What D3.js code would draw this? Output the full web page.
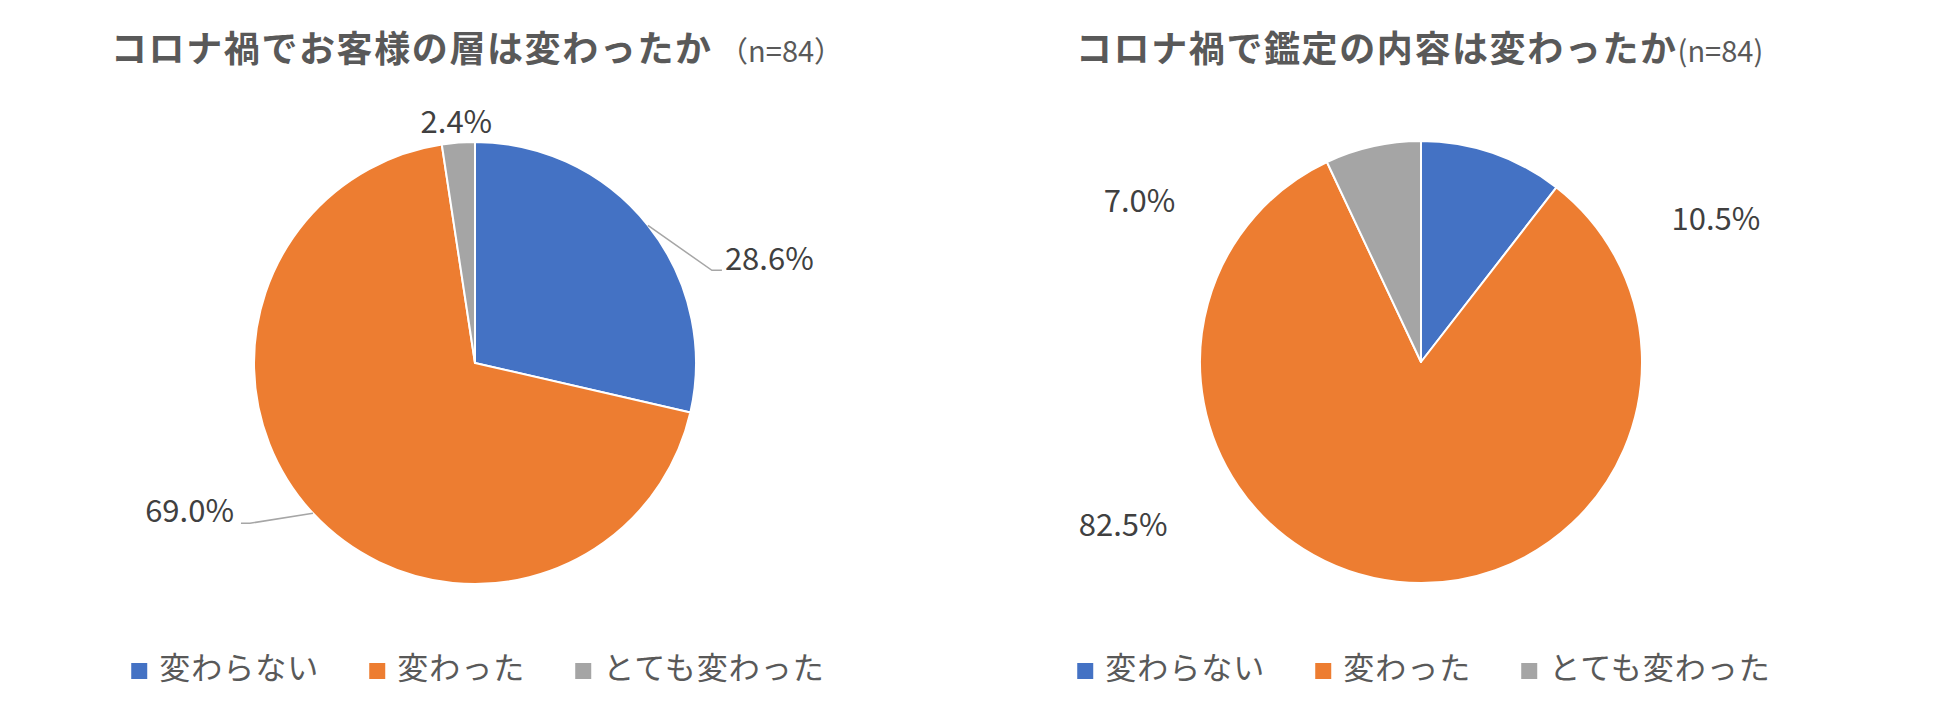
<!DOCTYPE html>
<html>
<head>
<meta charset="utf-8">
<script src="https://cdn.jsdelivr.net/npm/d3@7"></script>
<style>
  body { margin: 0; background: #fff; }
  text { font-family: "Noto Sans CJK JP", "Noto Sans", sans-serif; }
</style>
</head>
<body>
<div id="chart"></div>
<script>
// data
var categories = ["変わらない", "変わった", "とても変わった"];
var customerValues = [28.6, 69.0, 2.4];
var contentValues = [10.5, 82.5, 7.0];
var titles = ["コロナ禍でお客様の層は変わったか", "コロナ禍で鑑定の内容は変わったか"];
var titleNotes = [" （n=84）", "(n=84)"];

var colors = ["#4472C4", "#ED7D31", "#A5A5A5"];

var W = 1952, H = 712;
var radius = 221;

// label placement, relative to the point where the slice middle meets the rim
var labelLayout = [
  [ {dx: 77, dy: 45, anchor: "start", leader: [[64, 45], [74, 45]]},
    {dx: -79, dy: 9, anchor: "end", leader: [[-63, 10], [-72, 10]]},
    {dx: -2, dy: -10, anchor: "middle"} ],
  [ {dx: 179, dy: 77, anchor: "start"},
    {dx: -318, dy: -46, anchor: "start"},
    {dx: -269, dy: 66, anchor: "start"} ]
];

var charts = [
  {cx: 475, cy: 363, titleX: 111, values: customerValues},
  {cx: 1421, cy: 362, titleX: 1076, values: contentValues}
];

var svg = d3.select("#chart").append("svg")
  .attr("width", W)
  .attr("height", H);

var pie = d3.pie().sort(null).value(d => d);
var arc = d3.arc().innerRadius(0).outerRadius(radius);

charts.forEach(function(c, ci) {
  var g = svg.append("g")
    .attr("transform", "translate(" + c.cx + "," + c.cy + ")");

  // title
  var title = svg.append("text")
    .attr("x", c.titleX)
    .attr("y", 62)
    .attr("fill", "#595959");
  title.append("tspan")
    .attr("font-size", 36)
    .attr("font-weight", "bold")
    .attr("letter-spacing", 1.6)
    .text(titles[ci]);
  title.append("tspan")
    .attr("font-size", 29)
    .text(titleNotes[ci]);

  var arcs = pie(c.values);

  g.selectAll("path.slice")
    .data(arcs)
    .enter().append("path")
    .attr("class", "slice")
    .attr("d", arc)
    .attr("fill", (d, i) => colors[i])
    .attr("stroke", "#fff")
    .attr("stroke-width", 2)
    .attr("stroke-linejoin", "round");

  // rim point at the slice middle
  function rim(d) {
    var a = (d.startAngle + d.endAngle) / 2;
    return [radius * Math.sin(a), -radius * Math.cos(a)];
  }

  arcs.forEach(function(d, i) {
    var p = rim(d);
    var lay = labelLayout[ci][i];
    if (lay.leader) {
      var pts = [p].concat(lay.leader.map(q => [p[0] + q[0], p[1] + q[1]]));
      g.append("path")
        .attr("d", d3.line()(pts))
        .attr("fill", "none")
        .attr("stroke", "#A6A6A6")
        .attr("stroke-width", 1.5);
    }
    g.append("text")
      .attr("x", p[0] + lay.dx)
      .attr("y", p[1] + lay.dy)
      .attr("text-anchor", lay.anchor)
      .attr("font-size", 31)
      .attr("fill", "#404040")
      .text(d3.format(".1f")(d.data) + "%");
  });

  // legend, centred under the pie
  var legend = svg.append("g");
  var xpos = 0;
  categories.forEach(function(name, i) {
    var item = legend.append("g").attr("transform", "translate(" + xpos + ",0)");
    item.append("rect")
      .attr("x", 0)
      .attr("y", -16)
      .attr("width", 16)
      .attr("height", 16)
      .attr("fill", colors[i]);
    var t = item.append("text")
      .attr("x", 28)
      .attr("y", 0)
      .attr("font-size", 31)
      .attr("letter-spacing", 1)
      .attr("fill", "#595959")
      .text(name);
    xpos += 28 + t.node().getComputedTextLength() + 50;
  });
  var lw = xpos - 50;
  legend.attr("transform", "translate(" + (c.cx + 3 - lw / 2) + ",679)");
});
</script>
</body>
</html>
